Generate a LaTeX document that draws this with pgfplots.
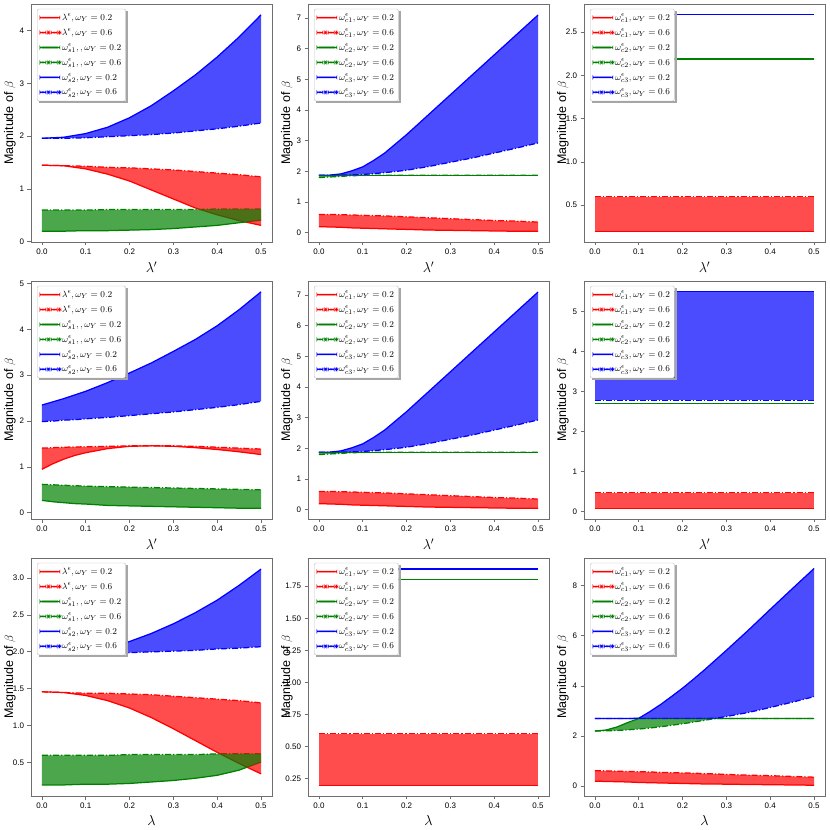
\documentclass[border=0pt]{standalone}
\usepackage{pgfplots}
\pgfplotsset{compat=1.18}
\usepackage{pgfplotstable}
\usepackage{fontspec}
\setmainfont{Liberation Sans}

\definecolor{mred}{RGB}{255,0,0}
\definecolor{mgreen}{RGB}{0,128,0}
\definecolor{mblue}{RGB}{0,0,255}
\definecolor{framegray}{RGB}{110,110,110}

\pgfplotstableread{
x r2 r6 g2 g6 b2 b6
0.00 1.45 1.45 0.20 0.60 1.96 1.96
0.05 1.44 1.44 0.20 0.60 1.98 1.96
0.10 1.38 1.43 0.21 0.60 2.05 1.97
0.15 1.28 1.41 0.21 0.61 2.17 1.99
0.20 1.15 1.40 0.22 0.61 2.35 2.01
0.25 0.98 1.38 0.23 0.61 2.58 2.03
0.30 0.81 1.36 0.25 0.61 2.86 2.06
0.35 0.64 1.33 0.28 0.61 3.16 2.10
0.40 0.51 1.30 0.31 0.62 3.50 2.14
0.45 0.40 1.27 0.36 0.62 3.88 2.19
0.50 0.31 1.23 0.41 0.62 4.30 2.25
}\tA

\pgfplotstableread{
x r2 r6 g2 g6 b2 b6
0.000 0.20 0.60 1.88 1.80 1.88 1.88
0.025 0.19 0.60 1.88 1.82 1.88 1.88
0.050 0.18 0.59 1.88 1.84 1.92 1.88
0.075 0.16 0.58 1.88 1.86 2.02 1.89
0.100 0.15 0.57 1.88 1.87 2.15 1.90
0.125 0.14 0.56 1.88 1.88 2.36 1.93
0.150 0.13 0.55 1.88 1.88 2.60 1.96
0.200 0.11 0.52 1.88 1.88 3.20 2.04
0.250 0.09 0.49 1.88 1.88 3.85 2.16
0.300 0.08 0.46 1.88 1.88 4.50 2.30
0.350 0.07 0.43 1.88 1.88 5.15 2.44
0.400 0.06 0.40 1.88 1.88 5.80 2.60
0.450 0.05 0.38 1.88 1.88 6.45 2.76
0.500 0.05 0.35 1.88 1.88 7.10 2.93
}\tB

\pgfplotstableread{
x r2 r6 g2 g6 b2 b6
0.0 0.20 0.60 2.19 2.19 2.70 2.70
0.5 0.20 0.60 2.19 2.19 2.70 2.70
}\tC

\pgfplotstableread{
x r2 r6 g2 g6 b2 b6
0.000 0.95 1.41 0.27 0.62 2.35 1.99
0.025 1.07 1.42 0.24 0.61 2.42 2.00
0.050 1.17 1.43 0.22 0.60 2.49 2.02
0.075 1.25 1.435 0.20 0.59 2.57 2.03
0.100 1.31 1.44 0.19 0.58 2.65 2.05
0.150 1.40 1.45 0.16 0.57 2.84 2.08
0.200 1.45 1.46 0.15 0.56 3.05 2.12
0.250 1.46 1.46 0.14 0.55 3.27 2.16
0.300 1.45 1.46 0.13 0.54 3.52 2.20
0.350 1.42 1.45 0.12 0.53 3.78 2.25
0.400 1.38 1.43 0.11 0.52 4.08 2.30
0.450 1.33 1.41 0.10 0.51 4.43 2.36
0.500 1.27 1.39 0.10 0.50 4.82 2.43
}\tD

\pgfplotstableread{
x r2 r6 g2 g6 b2 b6
0.0 0.08 0.47 2.70 2.70 5.50 2.78
0.5 0.08 0.47 2.70 2.70 5.50 2.78
}\tF

\pgfplotstableread{
x r2 r6 g2 g6 b2 b6
0.00 1.46 1.46 0.20 0.60 1.95 1.95
0.05 1.45 1.45 0.20 0.60 1.96 1.96
0.10 1.41 1.44 0.21 0.60 1.99 1.97
0.15 1.34 1.44 0.21 0.60 2.05 1.98
0.20 1.24 1.43 0.22 0.61 2.14 1.99
0.25 1.11 1.42 0.24 0.61 2.25 2.00
0.30 0.96 1.40 0.26 0.61 2.38 2.01
0.35 0.80 1.38 0.29 0.61 2.53 2.02
0.40 0.64 1.36 0.33 0.62 2.70 2.04
0.45 0.49 1.34 0.40 0.62 2.90 2.05
0.50 0.35 1.31 0.51 0.62 3.12 2.07
}\tG

\pgfplotstableread{
x r2 r6 g2 g6 b2 b6
0.0 0.20 0.60 1.80 1.80 1.885 1.885
0.5 0.20 0.60 1.80 1.80 1.885 1.885
}\tH

\pgfplotstableread{
x r2 r6 g2 g6 b2 b6
0.000 0.20 0.62 2.20 2.20 2.70 2.70
0.025 0.19 0.61 2.24 2.21 2.70 2.70
0.050 0.18 0.60 2.36 2.22 2.70 2.70
0.075 0.17 0.59 2.54 2.25 2.70 2.70
0.100 0.15 0.58 2.70 2.28 2.71 2.70
0.125 0.14 0.57 2.70 2.32 2.97 2.70
0.150 0.13 0.55 2.70 2.37 3.26 2.70
0.175 0.12 0.54 2.70 2.43 3.58 2.70
0.200 0.11 0.53 2.70 2.49 3.91 2.70
0.225 0.10 0.52 2.70 2.56 4.27 2.70
0.250 0.09 0.50 2.70 2.63 4.64 2.70
0.275 0.09 0.49 2.70 2.70 5.03 2.71
0.300 0.08 0.47 2.70 2.70 5.42 2.78
0.350 0.07 0.44 2.70 2.70 6.22 2.94
0.400 0.06 0.42 2.70 2.70 7.05 3.14
0.450 0.05 0.39 2.70 2.70 7.87 3.35
0.500 0.04 0.36 2.70 2.70 8.68 3.57
}\tI

\tikzset{
 l2/.style={line width=1.25pt, solid},
 l6/.style={line width=1.25pt, dash pattern=on 6pt off 2pt on 1.2pt off 2pt},
}

\pgfplotsset{
 panel/.style={
  scale only axis, width=241pt, height=238pt, anchor=north west,
  xmin=-0.025, xmax=0.525,
  xtick={0,0.1,0.2,0.3,0.4,0.5}, xticklabels={0.0,0.1,0.2,0.3,0.4,0.5},
  tick pos=left, tick align=outside, major tick length=3.5pt,
  axis line style={framegray, line width=0.8pt},
  every tick/.style={framegray, line width=0.8pt},
  tick label style={font=\fontsize{8}{9.6}\selectfont},
  /pgf/number format/assume math mode=true,
  ylabel={Magnitude of $\beta$},
  ylabel style={font=\fontsize{12.5}{15}\selectfont, at={(axis description cs:-0.088,0.5)}, anchor=center},
  xlabel style={font=\fontsize{14}{16}\selectfont},
  legend cell align=left,
  legend style={name=leg, at={(0.025,0.98)}, anchor=north west,
    font=\fontsize{9.3}{11}\selectfont, draw=black!25, rounded corners=2pt,
    fill=white, row sep=2.6pt, inner sep=2.5pt},
 },
 band/.style={draw=none, fill=#1, fill opacity=0.7, stack plots=y, forget plot},
 off/.style={draw=none, stack plots=y, forget plot},
}

\newcommand\limgS[1]{\addlegendimage{legend image code/.code={\fill[#1] (0pt,-0.6pt) rectangle (20pt,0.6pt);}}}
\newcommand\limgD[1]{\addlegendimage{legend image code/.code={\fill[#1] (0pt,-0.6pt) rectangle (6pt,0.6pt) (8pt,-0.6pt) rectangle (9.2pt,0.6pt) (11.2pt,-0.6pt) rectangle (17.2pt,0.6pt) (19.2pt,-0.6pt) rectangle (20pt,0.6pt);}}}

\newcommand\six[4]{%
 \limgS{mred} \addlegendentry{$#2, \omega_{Y}=0.2$}
 \limgD{mred} \addlegendentry{$#2, \omega_{Y}=0.6$}
 \limgS{mgreen} \addlegendentry{$#3, \omega_{Y}=0.2$}
 \limgD{mgreen} \addlegendentry{$#3, \omega_{Y}=0.6$}
 \limgS{mblue} \addlegendentry{$#4, \omega_{Y}=0.2$}
 \limgD{mblue} \addlegendentry{$#4, \omega_{Y}=0.6$}
 \addplot[draw=mred,l2,forget plot] table[x=x,y=r2]{#1};
 \addplot[draw=mred,l6,forget plot] table[x=x,y=r6]{#1};
 \addplot[draw=mgreen,l2,forget plot] table[x=x,y=g2]{#1};
 \addplot[draw=mgreen,l6,forget plot] table[x=x,y=g6]{#1};
 \addplot[draw=mblue,l2,forget plot] table[x=x,y=b2]{#1};
 \addplot[draw=mblue,l6,forget plot] table[x=x,y=b6]{#1};
 \addplot[off] table[x=x,y=r2]{#1};
 \addplot[band=mred] table[x=x,y expr=\thisrow{r6}-\thisrow{r2}]{#1} \closedcycle;
 \addplot[off] table[x=x,y expr=\thisrow{g2}-\thisrow{r6}]{#1};
 \addplot[band=mgreen] table[x=x,y expr=\thisrow{g6}-\thisrow{g2}]{#1} \closedcycle;
 \addplot[off] table[x=x,y expr=\thisrow{b2}-\thisrow{g6}]{#1};
 \addplot[band=mblue] table[x=x,y expr=\thisrow{b6}-\thisrow{b2}]{#1} \closedcycle;
}
\newcommand\legshadow{%
 \fill[black!35] ([xshift=0pt,yshift=-2pt]leg.north east) rectangle ([xshift=2pt,yshift=-2pt]leg.south east);
 \fill[black!35] ([xshift=2pt,yshift=0pt]leg.south west) rectangle ([xshift=0pt,yshift=-2pt]leg.south east);}

\begin{document}
\begin{tikzpicture}
\path[use as bounding box] (0pt,0pt) rectangle (830pt,830pt);

% Row 1
\begin{axis}[panel, at={(31pt,826pt)}, ymin=-0.005, ymax=4.505, ytick={0,1,2,3,4}, xlabel={$\lambda'$}]
\six{\tA}{\lambda^{\epsilon}}{\omega^{\epsilon}_{s1},}{\omega^{\epsilon}_{s2}}
\end{axis}
\legshadow
\begin{axis}[panel, at={(308pt,826pt)}, ymin=-0.3, ymax=7.46, ytick={0,1,2,3,4,5,6,7}, xlabel={$\lambda'$}]
\six{\tB}{\omega^{\epsilon}_{c1}}{\omega^{\epsilon}_{c2}}{\omega^{\epsilon}_{c3}}
\end{axis}
\legshadow
\begin{axis}[panel, at={(584pt,826pt)}, ymin=0.075, ymax=2.825, ytick={0.5,1,1.5,2,2.5},
  yticklabel style={/pgf/number format/.cd,fixed,fixed zerofill,precision=1}, xlabel={$\lambda'$}]
\six{\tC}{\omega^{\epsilon}_{c1}}{\omega^{\epsilon}_{c2}}{\omega^{\epsilon}_{c3}}
\end{axis}
\legshadow

% Row 2
\begin{axis}[panel, at={(31pt,549pt)}, ymin=-0.136, ymax=5.056, ytick={0,1,2,3,4,5}, xlabel={$\lambda'$}]
\six{\tD}{\lambda^{\epsilon}}{\omega^{\epsilon}_{s1},}{\omega^{\epsilon}_{s2}}
\end{axis}
\legshadow
\begin{axis}[panel, at={(308pt,549pt)}, ymin=-0.3, ymax=7.46, ytick={0,1,2,3,4,5,6,7}, xlabel={$\lambda'$}]
\six{\tB}{\omega^{\epsilon}_{c1}}{\omega^{\epsilon}_{c2}}{\omega^{\epsilon}_{c3}}
\end{axis}
\legshadow
\begin{axis}[panel, at={(584pt,549pt)}, ymin=-0.19, ymax=5.77, ytick={0,1,2,3,4,5}, xlabel={$\lambda'$}]
\six{\tF}{\omega^{\epsilon}_{c1}}{\omega^{\epsilon}_{c2}}{\omega^{\epsilon}_{c3}}
\end{axis}
\legshadow

% Row 3
\begin{axis}[panel, at={(31pt,272pt)}, ymin=0.05, ymax=3.27, ytick={0.5,1,1.5,2,2.5,3},
  yticklabel style={/pgf/number format/.cd,fixed,fixed zerofill,precision=1}, xlabel={$\lambda$}]
\six{\tG}{\lambda^{\epsilon}}{\omega^{\epsilon}_{s1},}{\omega^{\epsilon}_{s2}}
\end{axis}
\legshadow
\begin{axis}[panel, at={(308pt,272pt)}, ymin=0.116, ymax=1.97, ytick={0.25,0.5,0.75,1,1.25,1.5,1.75},
  yticklabel style={/pgf/number format/.cd,fixed,fixed zerofill,precision=2}, xlabel={$\lambda$}]
\six{\tH}{\omega^{\epsilon}_{c1}}{\omega^{\epsilon}_{c2}}{\omega^{\epsilon}_{c3}}
\end{axis}
\legshadow
\begin{axis}[panel, at={(584pt,272pt)}, ymin=-0.39, ymax=9.1, ytick={0,2,4,6,8}, xlabel={$\lambda$}]
\six{\tI}{\omega^{\epsilon}_{c1}}{\omega^{\epsilon}_{c2}}{\omega^{\epsilon}_{c3}}
\end{axis}
\legshadow
\end{tikzpicture}
\end{document}
